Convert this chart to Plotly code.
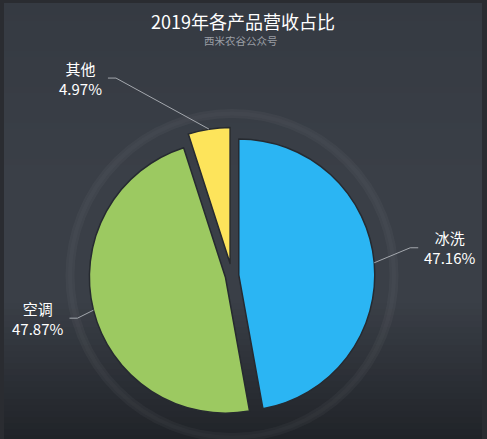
import math
import plotly.graph_objects as go

# ── Data ──────────────────────────────────────────────────────────────────────
CATEGORIES = ["冰洗", "空调", "其他"]
SHARES     = [47.16, 47.87, 4.97]          # percent
COLORS     = ["#2bb5f3", "#9cc961", "#fde45b"]

TITLE    = "2019年各产品营收占比"
SUBTITLE = "西米农谷公众号"

# ── Layout constants (pixels) ─────────────────────────────────────────────────
W, H = 487, 439
CX, CY = 232, 275.5        # pie centre
R = 136                    # pie radius
PULLS = [0.05, 0.05, 0.09]
FONT = "Noto Sans CJK SC"

# leader line: first segment offset from the slice edge, then a short flat tail
LEADERS = [(36, -15), (-16, 8), (-93, -51)]
TAIL = 8


def px(x):
    return x / W


def py(y):
    return 1 - y / H


def mix(c1, c2, t):
    a = [int(c1[i:i + 2], 16) for i in (1, 3, 5)]
    b = [int(c2[i:i + 2], 16) for i in (1, 3, 5)]
    return "#" + "".join(f"{round(a[k] + (b[k] - a[k]) * t):02x}" for k in range(3))


fig = go.Figure()

# pie domain chosen so that plotly's radius = R after pull shrink
half = R * (1 + max(PULLS))
fig.add_trace(go.Pie(
    labels=CATEGORIES,
    values=SHARES,
    sort=False,
    direction="clockwise",
    rotation=0,
    pull=PULLS,
    textinfo="none",
    hoverinfo="label+percent",
    marker=dict(colors=COLORS, line=dict(color="#262a30", width=1.5)),
    domain=dict(x=[px(CX - half), px(CX + half)], y=[py(CY + half), py(CY - half)]),
    showlegend=False,
))

shapes = []

# ── Background gradient ───────────────────────────────────────────────────────
stops = [(0, "#353a42"), (180, "#3a3f47"), (300, "#3a3f47"), (439, "#202328")]
step = 6
for y0 in range(3, H, step):
    ym = y0 + step / 2
    for (s0, c0), (s1, c1) in zip(stops, stops[1:]):
        if s0 <= ym <= s1:
            col = mix(c0, c1, (ym - s0) / (s1 - s0))
            break
    shapes.append(dict(type="rect", xref="paper", yref="paper", layer="below",
                       x0=px(4), x1=px(482), y0=py(min(y0 + step, H)), y1=py(y0),
                       fillcolor=col, line=dict(width=0)))

# ── Decorative ring behind the pie ────────────────────────────────────────────
for rr, w, a in [(162, 9, 0.035), (162, 4, 0.02)]:
    shapes.append(dict(type="circle", xref="paper", yref="paper", layer="below",
                       x0=px(CX - rr), x1=px(CX + rr), y0=py(CY + rr), y1=py(CY - rr),
                       line=dict(color=f"rgba(255,255,255,{a})", width=w)))

# ── Labels with leader lines ──────────────────────────────────────────────────
total = sum(SHARES)
start = 0.0
annotations = []
for name, val, pull, (dx, dy) in zip(CATEGORIES, SHARES, PULLS, LEADERS):
    frac = val / total
    mid = (start + frac / 2) * 2 * math.pi
    start += frac
    ex = CX + R * (1 + pull) * math.sin(mid)
    ey = CY - R * (1 + pull) * math.cos(mid)
    bx, by = ex + dx, ey + dy
    side = 1 if math.sin(mid) > 0 else -1
    tx = bx + side * TAIL
    shapes.append(dict(type="path", xref="paper", yref="paper",
                       path=f"M {px(ex)} {py(ey)} L {px(bx)} {py(by)} L {px(tx)} {py(by)}",
                       line=dict(color="#a4a8ae", width=1)))
    annotations.append(dict(
        x=px(tx + side * 4), y=py(by), xref="paper", yref="paper",
        xanchor="left" if side > 0 else "right", yanchor="middle",
        text=f"{name}<br>{val:.2f}%", showarrow=False, align="center",
        font=dict(family=FONT, size=15, color="#ffffff"),
    ))

annotations.append(dict(x=px(243), y=py(21), xref="paper", yref="paper",
                        text=TITLE, showarrow=False, xanchor="center", yanchor="middle",
                        font=dict(family=FONT, size=18, color="#ffffff")))
annotations.append(dict(x=px(241), y=py(40), xref="paper", yref="paper",
                        text=SUBTITLE, showarrow=False, xanchor="center", yanchor="middle",
                        font=dict(family=FONT, size=10.5, color="#9a9ea5")))

fig.update_layout(
    width=W, height=H,
    margin=dict(l=0, r=0, t=0, b=0),
    paper_bgcolor="#2a2c31",
    plot_bgcolor="#2a2c31",
    shapes=shapes,
    annotations=annotations,
)

fig.write_html("out.html", config={"displayModeBar": False},
               post_script="document.body.style.margin='0';")
